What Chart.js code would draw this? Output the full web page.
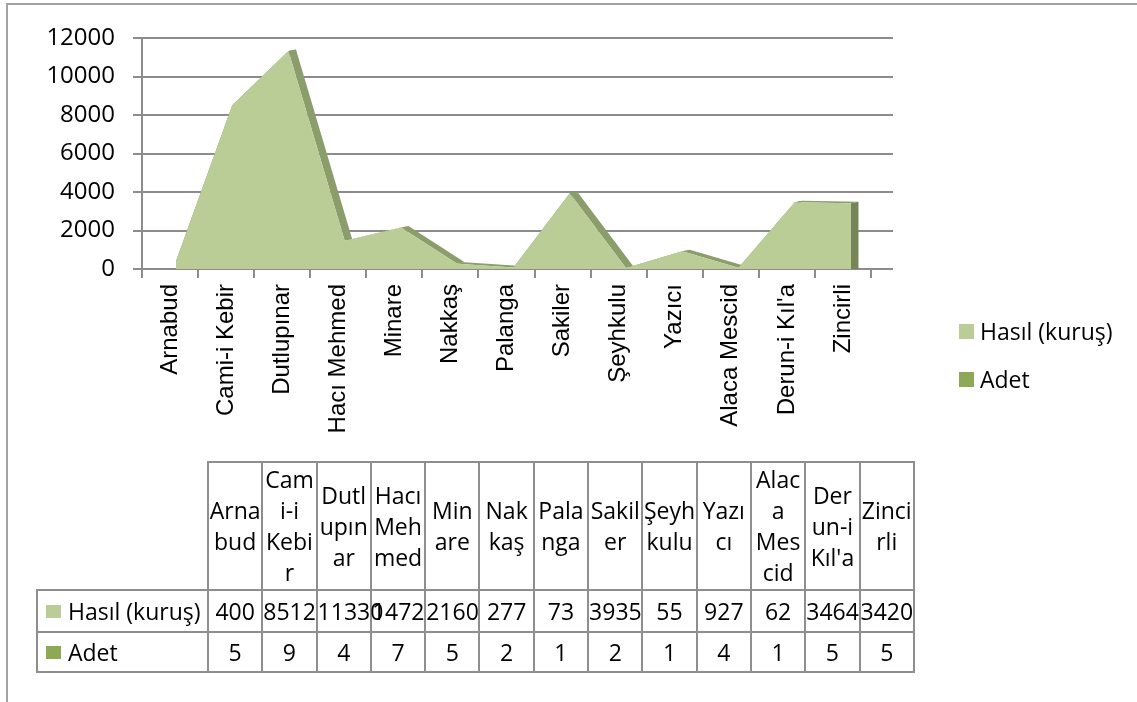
<!DOCTYPE html>
<html>
<head>
<meta charset="utf-8">
<script src="https://cdn.jsdelivr.net/npm/chart.js@4.4.1/dist/chart.umd.min.js"></script>
<style>
  html, body { margin:0; padding:0; background:#fff; }
  #wrap { position:relative; width:1137px; height:702px; overflow:hidden; background:#fff; }
  #frame { position:absolute; left:6px; top:3px; width:1300px; height:900px;
           border-left:2px solid #a3a3a3; border-top:2px solid #a3a3a3; }
  #c { position:absolute; left:0; top:0; }
  #legend { position:absolute; left:959px; top:312px; font-family:'Open Sans', sans-serif; font-size:23px; color:#000; }
  #legend .it { position:relative; height:48px; line-height:38px; white-space:nowrap; }
  #legend .sw { display:inline-block; width:15px; height:15px; vertical-align:middle; margin-right:6px; position:relative; top:-2px; }
  #dt { position:absolute; left:36px; top:461px; border-collapse:collapse; table-layout:fixed; width:877px;
        font-family:'Open Sans', sans-serif; font-size:23px; color:#000; }
  #dt td { border:2px solid #8e8e8e; padding:0; text-align:center; vertical-align:middle; white-space:nowrap; overflow:visible; }
  #dt td.corner { border:none; }
  #dt tr.hd td { height:126px; line-height:31px; }
  #dt tr.r1 td { height:40px; }
  #dt tr.r2 td { height:38px; }
  #dt td.lab { text-align:left; padding-left:8px; }
  #dt .sw { display:inline-block; width:15px; height:13px; margin-right:7px; vertical-align:middle; position:relative; top:-2px; }
</style>
</head>
<body>
<div id="wrap">
  <div id="frame"></div>
  <canvas id="c" width="1137" height="702"></canvas>
  <div id="legend"></div>
  <table id="dt"></table>
</div>
<script>
// ---- data ----
const categories = ['Arnabud','Cami-i Kebir','Dutlupınar','Hacı Mehmed','Minare','Nakkaş','Palanga','Sakiler','Şeyhkulu','Yazıcı','Alaca Mescid',"Derun-i Kıl'a",'Zincirli'];
const hasil = [400, 8512, 11330, 1472, 2160, 277, 73, 3935, 55, 927, 62, 3464, 3420];
const adet = [5, 9, 4, 7, 5, 2, 1, 2, 1, 4, 1, 5, 5];
const seriesNames = ['Hasıl (kuruş)', 'Adet'];
const yTicks = [0, 2000, 4000, 6000, 8000, 10000, 12000];
// header labels of the data table, as wrapped in the reference
const tableHeaders = [['Arna','bud'],['Cam','i-i','Kebi','r'],['Dutl','upın','ar'],['Hacı','Meh','med'],['Min','are'],['Nak','kaş'],['Pala','nga'],['Sakil','er'],['Şeyh','kulu'],['Yazı','cı'],['Alac','a','Mes','cid'],['Der','un-i',"Kıl'a"],['Zinci','rli']];

// ---- styles ----
const C_HASIL = '#BBCD97';
const C_ADET = '#8EA955';
const C_SIDE = '#8B9D6B';
const C_CAP = '#758558';
const C_GRID = '#8c8c8c';

// grid lines (extend a bit to the right like the 3D back wall) + depth faces of the 3D area
const depthPlugin = {
  id: 'depth3d',
  beforeDatasetsDraw(chart) {
    const { ctx, chartArea, scales } = chart;
    const y = scales.y;
    ctx.save();
    ctx.strokeStyle = C_GRID;
    ctx.lineWidth = 2;
    y.ticks.forEach(t => {
      const py = Math.round(y.getPixelForValue(t.value));
      ctx.beginPath();
      ctx.moveTo(chartArea.left, py);
      ctx.lineTo(chartArea.right + 22, py);
      ctx.stroke();
    });
    const pts = chart.getDatasetMeta(0).data;
    const base = y.getPixelForValue(0);
    const dx = 7.5, dy = -1.5;
    ctx.fillStyle = C_SIDE;
    for (let i = 0; i < pts.length - 1; i++) {
      const a = pts[i], b = pts[i + 1];
      ctx.beginPath();
      ctx.moveTo(a.x, a.y);
      ctx.lineTo(b.x, b.y);
      ctx.lineTo(b.x + dx, b.y + dy);
      ctx.lineTo(a.x + dx, a.y + dy);
      ctx.closePath();
      ctx.fill();
    }
    const l = pts[pts.length - 1];
    ctx.fillStyle = C_CAP;
    ctx.beginPath();
    ctx.moveTo(l.x, l.y);
    ctx.lineTo(l.x + dx, l.y + dy);
    ctx.lineTo(l.x + dx, base);
    ctx.lineTo(l.x, base);
    ctx.closePath();
    ctx.fill();
    ctx.restore();
  }
};

const ctx = document.getElementById('c').getContext('2d');
new Chart(ctx, {
  type: 'line',
  data: {
    labels: categories,
    datasets: [
      { label: seriesNames[0], data: hasil.map((v, i) => ({ x: i, y: v })), xAxisID: 'xv', yAxisID: 'y',
        fill: 'origin', backgroundColor: C_HASIL, borderWidth: 0, borderColor: 'rgba(0,0,0,0)', pointRadius: 0, tension: 0, order: 1 },
      { label: seriesNames[1], data: adet.map((v, i) => ({ x: i, y: v })), xAxisID: 'xv', yAxisID: 'y',
        fill: 'origin', backgroundColor: C_ADET, borderWidth: 0, borderColor: 'rgba(0,0,0,0)', pointRadius: 0, tension: 0, order: 2 }
    ]
  },
  options: {
    responsive: false,
    animation: false,
    devicePixelRatio: 1,
    layout: { padding: { left: 0, top: 38, right: 1137 - 871, bottom: 702 - 450 } },
    plugins: { legend: { display: false }, tooltip: { enabled: false } },
    scales: {
      x: {
        type: 'category', labels: categories, offset: true, position: 'bottom',
        grid: { offset: true, drawOnChartArea: false, drawTicks: true, tickLength: 9, color: C_GRID, lineWidth: 2 },
        border: { display: false },
        ticks: { minRotation: 90, maxRotation: 90, autoSkip: false, padding: 6, color: '#000',
                 font: { family: "'Liberation Sans', Arial, sans-serif", size: 24 } },
        afterFit(s) { s.height = 450 - 269; }
      },
      xv: { type: 'linear', display: false, min: -0.604, max: 12.356 },
      y: {
        type: 'linear', min: yTicks[0], max: yTicks[yTicks.length - 1],
        afterBuildTicks(s) { s.ticks = yTicks.map(v => ({ value: v })); },
        ticks: { padding: 18, color: '#000', font: { family: "'Open Sans', sans-serif", size: 24 },
                 callback: v => String(v) },
        grid: { drawOnChartArea: false, tickLength: 9, color: C_GRID, lineWidth: 2 },
        border: { display: true, color: C_GRID, width: 2 },
        afterFit(s) { s.width = 142; }
      }
    }
  },
  plugins: [depthPlugin]
});

// ---- legend ----
const legend = document.getElementById('legend');
[C_HASIL, C_ADET].forEach((col, i) => {
  const d = document.createElement('div');
  d.className = 'it';
  d.innerHTML = '<span class="sw" style="background:' + col + '"></span>';
  d.appendChild(document.createTextNode(seriesNames[i]));
  legend.appendChild(d);
});

// ---- data table ----
const tbl = document.getElementById('dt');
let html = '<colgroup><col style="width:171px">' + categories.map(() => '<col style="width:54.3px">').join('') + '</colgroup>';
html += '<tr class="hd"><td class="corner"></td>' + tableHeaders.map(h => '<td>' + h.join('<br>') + '</td>').join('') + '</tr>';
const rows = [[hasil, C_HASIL], [adet, C_ADET]];
rows.forEach((r, ri) => {
  html += '<tr class="r' + (ri + 1) + '"><td class="lab"><span class="sw" style="background:' + r[1] + '"></span>' + seriesNames[ri] + '</td>' +
          r[0].map(v => '<td>' + v + '</td>').join('') + '</tr>';
});
tbl.innerHTML = html;
</script>
</body>
</html>
